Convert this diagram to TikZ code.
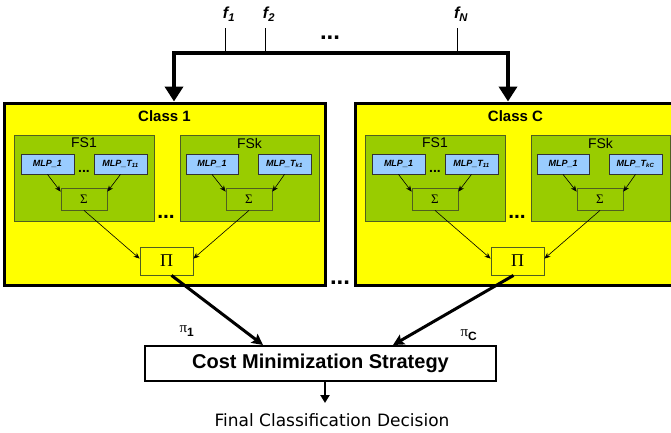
\documentclass[tikz,border=0pt]{standalone}
\usepackage{fontspec}
\setmainfont{Liberation Sans}
\newfontfamily\dejavu{DejaVu Sans}
\newfontfamily\greek{Liberation Serif}
\usetikzlibrary{arrows.meta}

\definecolor{classyellow}{HTML}{FFFF00}
\definecolor{fsgreen}{HTML}{99CC00}
\definecolor{fsedge}{HTML}{4F5F20}
\definecolor{mlpblue}{HTML}{99CCFF}
\definecolor{mlpedge}{HTML}{333333}

\tikzset{
  classbox/.style={draw=black, line width=3pt, fill=classyellow, minimum width=321pt, minimum height=182pt, inner sep=0pt},
  classtitle/.style={font=\bfseries\fontsize{15}{15}\selectfont, inner sep=0pt},
  fsbox/.style={draw=fsedge, line width=0.8pt, fill=fsgreen, minimum width=140pt, minimum height=86pt, inner sep=0pt},
  fstitle/.style={font=\fontsize{14}{14}\selectfont, inner sep=0pt},
  mlpbox/.style={draw=mlpedge, line width=0.8pt, fill=mlpblue, minimum width=53pt, minimum height=20pt, inner sep=0pt,
                 font=\bfseries\itshape\fontsize{9}{9}\selectfont},
  sumbox/.style={draw=fsedge, line width=0.8pt, fill=fsgreen, minimum width=46pt, minimum height=22pt, inner sep=0pt,
                 font=\greek\fontsize{13}{13}\selectfont},
  prodbox/.style={draw=fsedge, line width=0.8pt, fill=classyellow, minimum width=53pt, minimum height=28pt, inner sep=0pt,
                 font=\greek\fontsize{18}{18}\selectfont},
  dots/.style={font=\bfseries\fontsize{24}{24}\selectfont, inner sep=0pt},
  smalldots/.style={font=\bfseries\fontsize{14}{14}\selectfont, inner sep=0pt},
  thin arrow/.style={draw=black, line width=0.6pt, -{Stealth[length=6pt,width=5pt]}},
  feed/.style={draw=black, line width=4.5pt, -{Triangle[length=15pt,width=18pt]}},
  vote/.style={draw=black, line width=3pt, -{Stealth[length=11pt,width=11pt,inset=2pt]}},
  costbox/.style={draw=black, line width=2.5pt, fill=white, minimum width=351pt, minimum height=35pt, inner sep=0pt,
                  font=\bfseries\fontsize{20}{20}\selectfont},
  featlabel/.style={font=\bfseries\itshape\fontsize{16}{16}\selectfont, inner sep=0pt},
  tick/.style={draw=black, line width=0.6pt}
}

\begin{document}
\begin{tikzpicture}[x=1pt, y=-1pt]
  \useasboundingbox (0,0) rectangle (671,432);

  % input features and the thick bus feeding every class
  \node[featlabel] (f1) at (229,14) {f\textsubscript{1}};
  \node[featlabel] (f2) at (269,14) {f\textsubscript{2}};
  \node[featlabel] (fN) at (461,14) {f\textsubscript{N}};
  \node[dots] (topdots) at (330,38) {...};
  \coordinate (t1) at (225,28);
  \coordinate (t2) at (265,28);
  \coordinate (tN) at (457,28);
  \coordinate (busL) at (174,53);
  \coordinate (busR) at (508,53);

  % one block per class
  \foreach \dx/\nm/\cls/\last in {0/a/1/{k1}, 351/c/C/{kC}} {
    \begin{scope}[xshift=\dx pt]
      \node[classbox] (box\nm) at (164.5,194) {};
      \node[classtitle] (title\nm) at (164.5,116) {Class \cls};
      % first feature subset
      \node[fsbox] (fsA\nm) at (84,178) {};
      \node[fstitle] (fsAt\nm) at (84,143) {FS1};
      \node[mlpbox] (mA1\nm) at (47.5,164) {MLP\_1};
      \node[mlpbox] (mAT\nm) at (120.5,164) {MLP\_T\textsubscript{11}};
      \node[smalldots] (dA\nm) at (84,171) {...};
      \node[sumbox] (sA\nm) at (84,199) {Σ};
      % last feature subset
      \node[fsbox, minimum width=139pt] (fsK\nm) at (249.5,178) {};
      \node[fstitle] (fsKt\nm) at (249.5,143) {FSk};
      \node[mlpbox, minimum width=52pt] (mK1\nm) at (212,164) {MLP\_1};
      \node[mlpbox] (mKT\nm) at (284.5,164) {MLP\_T\textsubscript{\last}};
      \node[sumbox] (sK\nm) at (249,199) {Σ};
      \node[dots, font=\bfseries\fontsize{21}{21}\selectfont] (dK\nm) at (166,217) {...};
      % product over the subsets
      \node[prodbox] (p\nm) at (166.5,261) {Π};

      \draw[thin arrow] (mA1\nm.south) -- ([yshift=-4pt]sA\nm.north west);
      \draw[thin arrow] (mAT\nm.south) -- ([yshift=-4pt]sA\nm.north east);
      \draw[thin arrow] (mK1\nm.south) -- ([yshift=-4pt]sK\nm.north west);
      \draw[thin arrow] (mKT\nm.south) -- ([yshift=-4pt]sK\nm.north east);
      \draw[thin arrow] (sA\nm.south) -- ([yshift=-12pt]p\nm.north west);
      \draw[thin arrow] (sK\nm.south) -- ([yshift=-12pt]p\nm.north east);
    \end{scope}
  }
  \node[dots] (classdots) at (340,283) {...};

  \draw[tick] (t1) -- (t1 |- busL);
  \draw[tick] (t2) -- (t2 |- busL);
  \draw[tick] (tN) -- (tN |- busL);
  \draw[feed] ([xshift=-2pt]busL) -- (busL) -- (busL |- boxa.north);
  \draw[feed] ([xshift=-2pt]busL) -- (busR) -- (busR |- boxc.north);

  % combination of the class scores
  \node[costbox] (cost) at (320.5,363.5) {Cost Minimization Strategy};
  \coordinate (in1) at (263,345);
  \coordinate (inC) at (393,345);
  \draw[vote] ([xshift=5pt]pa.south) -- (in1);
  \draw[vote] ([xshift=-4pt]pc.south) -- (inC);
  \node[inner sep=0pt] (pi1) at (187,331) {\greek\fontsize{15}{15}\selectfont π\textsubscript{\bfseries\fontsize{12}{12}\selectfont\rmfamily 1}};
  \node[inner sep=0pt] (piC) at (469,335) {\greek\fontsize{15}{15}\selectfont π\textsubscript{\bfseries\fontsize{12}{12}\selectfont\rmfamily C}};

  \node[inner sep=0pt, font=\dejavu\fontsize{17}{17}\selectfont] (decision) at (332,420) {Final Classification Decision};
  \coordinate (decTop) at (325,403);
  \draw[draw=black, line width=2pt, -{Triangle[length=8pt,width=9pt]}] (decTop |- cost.south) -- (decTop);
\end{tikzpicture}
\end{document}
